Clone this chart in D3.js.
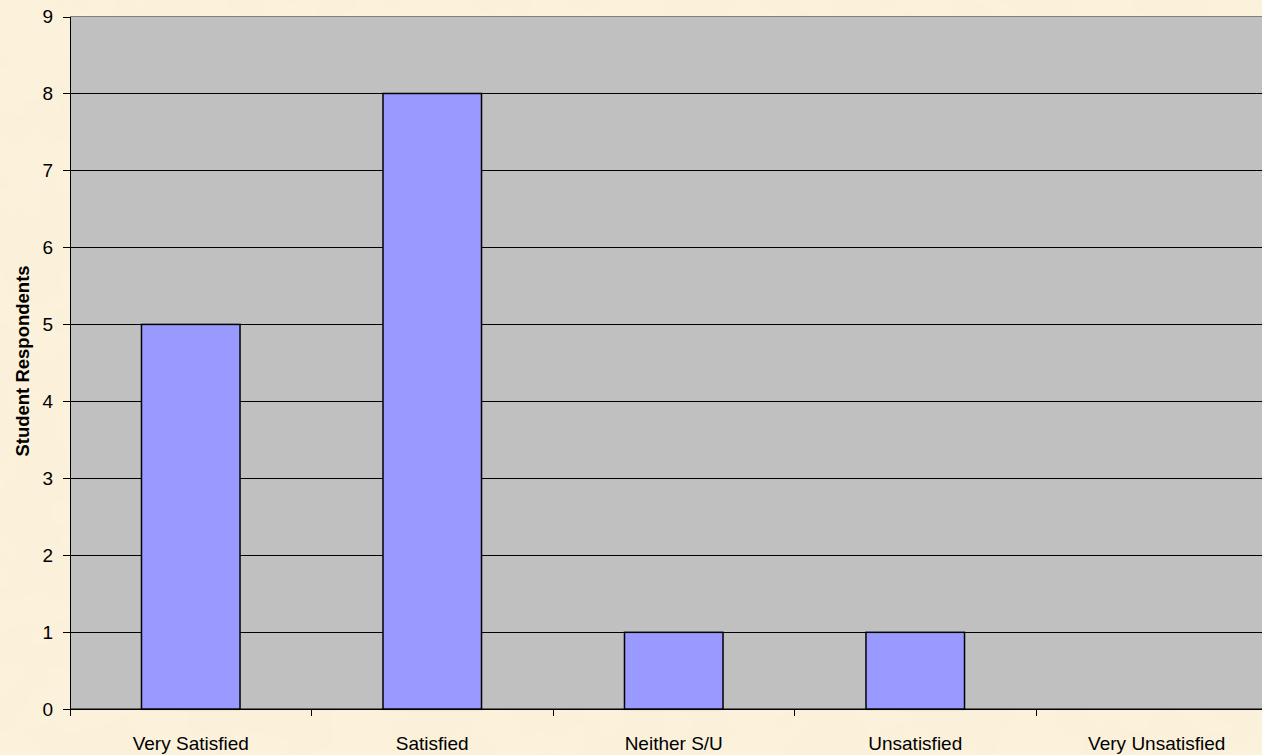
<!DOCTYPE html>
<html>
  <head>
    <script src="https://d3js.org/d3.v7.min.js"></script>
    <style>
      body {
        margin: 0;
        background-color: #fbf0d9;
        font-family: "Liberation Sans", Arial, sans-serif;
      }
    </style>
    <title>Student Respondents</title>
  </head>

  <body>
    <svg id="chart" width="1262" height="755"></svg>

    <script>
      // data
      var categories = [
        "Very Satisfied",
        "Satisfied",
        "Neither S/U",
        "Unsatisfied",
        "Very Unsatisfied",
      ];
      var respondents = [5, 8, 1, 1, 0];
      var yTicks = [0, 1, 2, 3, 4, 5, 6, 7, 8, 9];

      var canvas = d3.select("#chart");
      var marginLeft = 70;
      var marginTop = 16.5;
      var width = 1207.5; // plot area runs past the right edge of the window
      var height = 692.8;

      // parchment texture
      var defs = canvas.append("defs");
      var filter = defs.append("filter").attr("id", "paper");
      filter
        .append("feTurbulence")
        .attr("type", "fractalNoise")
        .attr("baseFrequency", "0.015")
        .attr("numOctaves", 3)
        .attr("seed", 4);
      filter
        .append("feColorMatrix")
        .attr("type", "matrix")
        .attr(
          "values",
          "0 0 0 0 0.93  0 0 0 0 0.84  0 0 0 0 0.66  0 0 0 0.45 -0.12"
        );

      canvas
        .append("rect")
        .attr("width", 1262)
        .attr("height", 755)
        .style("fill", "#fcf2dc");
      canvas
        .append("rect")
        .attr("width", 1262)
        .attr("height", 755)
        .attr("filter", "url(#paper)");

      var group = canvas
        .append("g")
        .attr("transform", "translate(" + marginLeft + "," + marginTop + ")");

      var xScale = d3
        .scaleBand()
        .domain(categories)
        .range([0, width])
        .paddingInner(0.592)
        .paddingOuter(0.296);

      var xTickScale = d3.scaleBand().domain(categories).range([0, width]);

      var yScale = d3.scaleLinear().domain([0, 9]).range([height, 0]);

      // plot area
      group
        .append("rect")
        .attr("width", width)
        .attr("height", height)
        .style("fill", "#c0c0c0")
        .style("stroke", "#808080")
        .style("stroke-width", 1)
        .style("shape-rendering", "crispEdges");

      // gridlines
      group
        .selectAll(".grid")
        .data(yTicks.filter((d) => d > 0 && d < 9))
        .enter()
        .append("line")
        .attr("class", "grid")
        .attr("x1", 0)
        .attr("x2", width)
        .attr("y1", (d) => yScale(d))
        .attr("y2", (d) => yScale(d))
        .style("stroke", "#000")
        .style("stroke-width", 1)
        .style("shape-rendering", "crispEdges");

      // bars
      group
        .selectAll(".bar")
        .data(respondents)
        .enter()
        .append("rect")
        .attr("class", "bar")
        .attr("x", (d, i) => xScale(categories[i]))
        .attr("y", (d) => yScale(d))
        .attr("width", xScale.bandwidth())
        .attr("height", (d) => height - yScale(d))
        .style("fill", "#9999ff")
        .style("stroke", (d) => (d > 0 ? "#000" : "none"))
        .style("stroke-width", 1.5);

      // y axis
      var yAxis = d3
        .axisLeft(yScale)
        .tickValues(yTicks)
        .tickSize(7)
        .tickPadding(10)
        .tickFormat(d3.format("d"));

      var yG = group.append("g").call(yAxis);
      yG
        .selectAll("line,path")
        .style("stroke", "#000")
        .style("shape-rendering", "crispEdges");
      yG.select(".domain").attr("d", "M0.5," + height + "V0");
      yG
        .selectAll("text")
        .style("font-family", "Liberation Sans, Arial, sans-serif")
        .style("font-size", "19px")
        .style("fill", "#000");

      // x axis with ticks on band boundaries
      var xAxisG = group
        .append("g")
        .attr("transform", "translate(0," + height + ")");
      xAxisG
        .append("line")
        .attr("x1", 0)
        .attr("x2", width)
        .style("stroke", "#000")
        .style("stroke-width", 1.5);
      xAxisG
        .selectAll(".xtick")
        .data(categories)
        .enter()
        .append("line")
        .attr("class", "xtick")
        .attr("x1", (d) => xTickScale(d))
        .attr("x2", (d) => xTickScale(d))
        .attr("y1", 0)
        .attr("y2", 7)
        .style("stroke", "#000")
        .style("shape-rendering", "crispEdges");
      xAxisG
        .selectAll(".xlabel")
        .data(categories)
        .enter()
        .append("text")
        .attr("class", "xlabel")
        .attr("x", (d) => xTickScale(d) + xTickScale.bandwidth() / 2)
        .attr("y", 41)
        .attr("text-anchor", "middle")
        .style("font-family", "Liberation Sans, Arial, sans-serif")
        .style("font-size", "19px")
        .style("fill", "#000")
        .text((d) => d);

      // y axis title
      group
        .append("text")
        .attr("transform", "rotate(-90)")
        .attr("x", -344.5)
        .attr("y", -41)
        .attr("text-anchor", "middle")
        .style("font-family", "Liberation Sans, Arial, sans-serif")
        .style("font-size", "18.5px")
        .style("font-weight", "bold")
        .style("fill", "#000")
        .text("Student Respondents");
    </script>
  </body>
</html>
